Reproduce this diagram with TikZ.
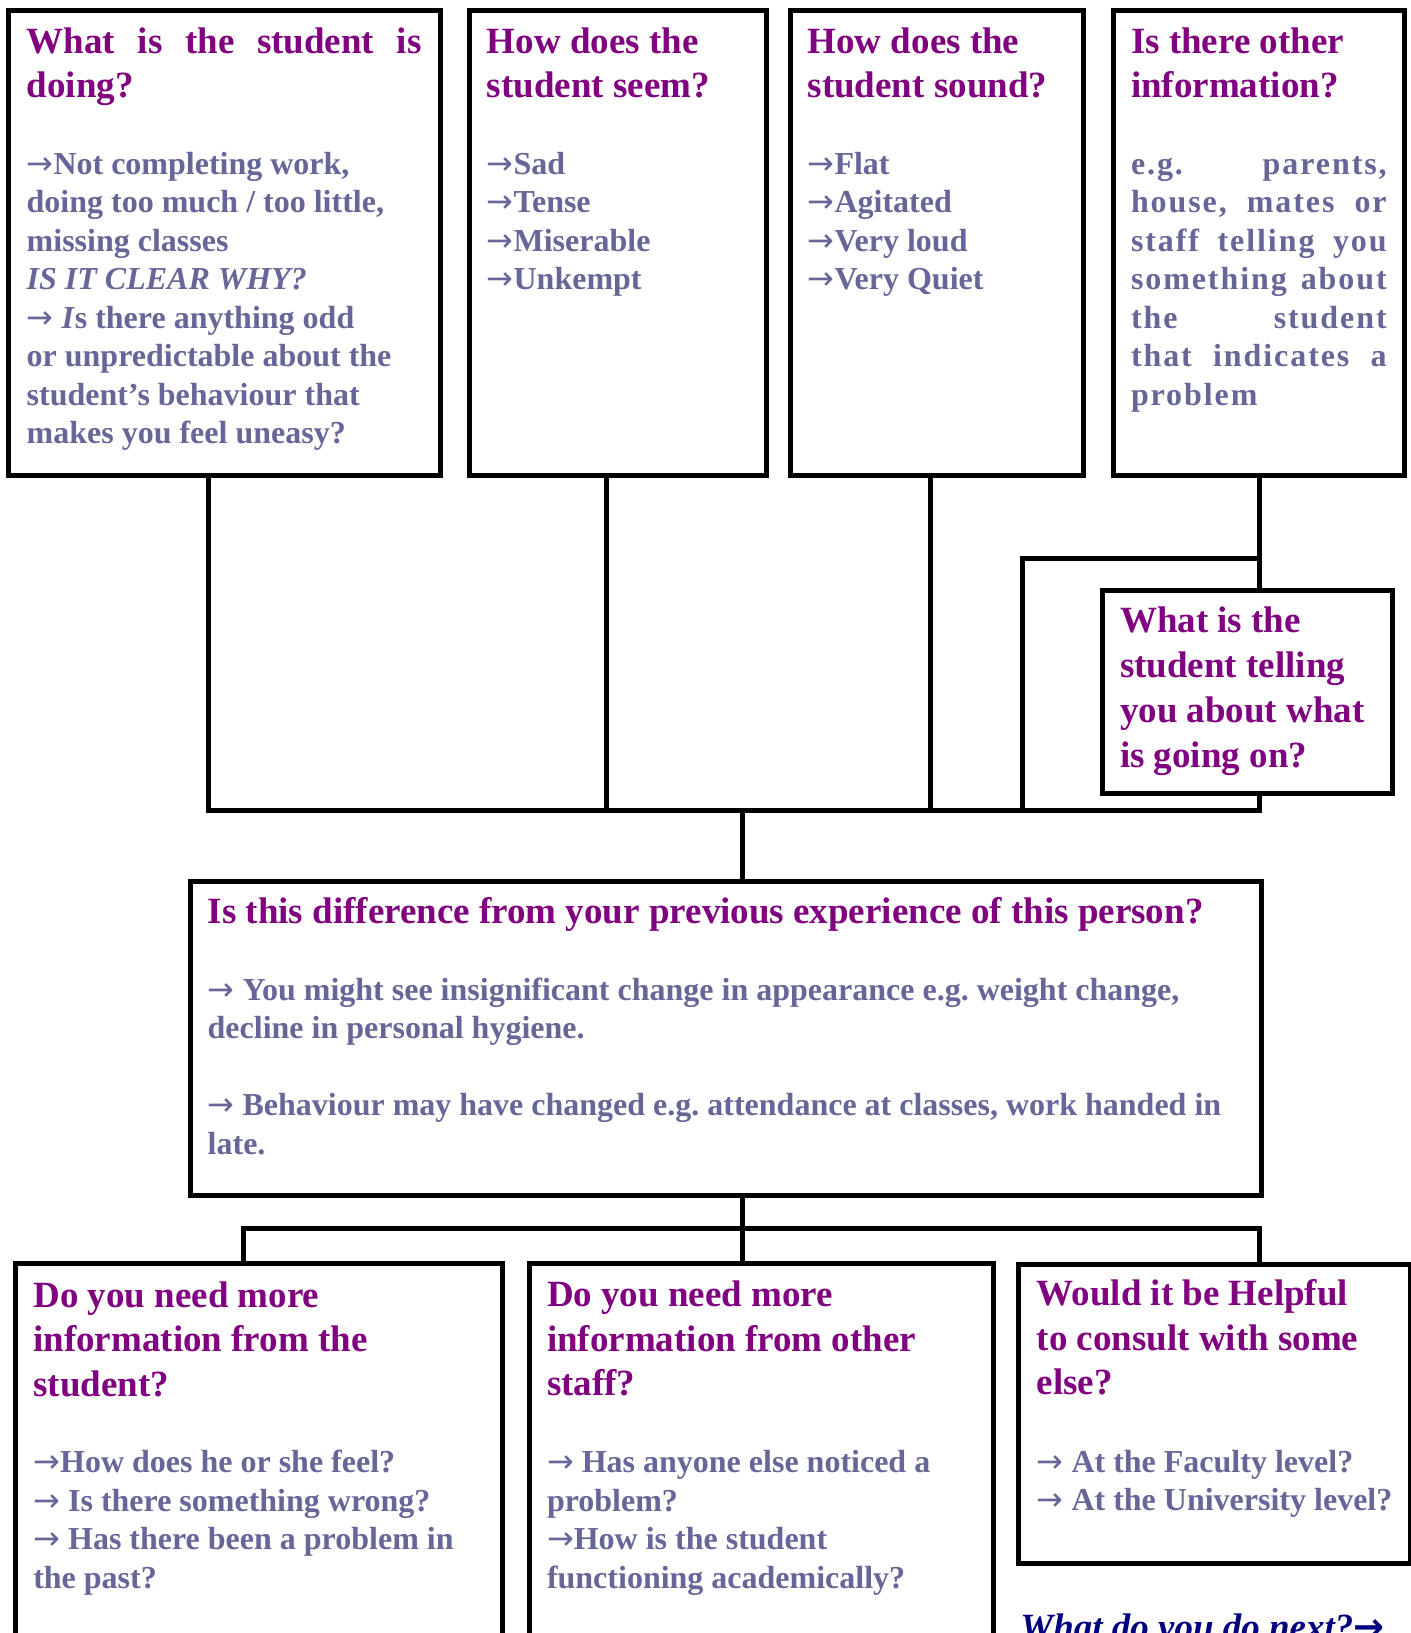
\documentclass[tikz,border=0pt]{standalone}
\usepackage{fontspec}
\setmainfont{Liberation Serif}
\newfontfamily\arrowfont{DejaVu Sans}
\usetikzlibrary{fit}
\definecolor{headpurple}{RGB}{128,0,128}
\definecolor{bodyslate}{RGB}{102,102,153}
\definecolor{nextnavy}{RGB}{0,0,128}
% ragged block whose baseline is the first line
\newcommand{\qlines}[1]{\parbox[t]{800pt}{\raggedright\frenchspacing #1}}
% bullet arrow
\newcommand{\ra}{{\arrowfont\mdseries →}}

\begin{document}
\begin{tikzpicture}[x=0.5pt,y=-0.5pt,
  qbox/.style={draw, line width=2.5pt, fill=white, inner sep=0pt, outer sep=0pt, rectangle},
  link/.style={draw, line width=2.5pt, line join=miter},
  head/.style={anchor=base west, inner sep=0pt, outer sep=0pt, text=headpurple,
     font=\fontsize{18.5pt}{22.25pt}\selectfont\bfseries},
  body/.style={anchor=base west, inner sep=0pt, outer sep=0pt, text=bodyslate,
     font=\fontsize{16pt}{19.25pt}\selectfont\bfseries},
]
\useasboundingbox (0,0) rectangle (1411,1633);
\clip (0,0) rectangle (1411,1633);
\fill[white] (0,0) rectangle (1411,1633);

% top row of question boxes
\node[qbox, fit={(8.5,10) (440,475)}] (doing) {};
\node[qbox, fit={(469.7,10) (766.3,475)}] (seem) {};
\node[qbox, fit={(790,10) (1083,475)}] (sound) {};
\node[qbox, fit={(1113,10) (1404,475)}] (other) {};

% central box and the bottom row
\node[qbox, fit={(190,881) (1261.5,1195.5)}] (diff) {};
\node[qbox, fit={(15,1263.5) (502.5,1700)}] (fromstudent) {};
\node[qbox, fit={(529,1263.5) (993,1700)}] (fromstaff) {};
\node[qbox, fit={(1018.5,1264) (1410.5,1563)}] (consult) {};

% junction points of the connectors
\coordinate (jDoing) at (208,810);
\coordinate (jSeem) at (606,810);
\coordinate (jSound) at (930,810);
\coordinate (jOther) at (1259,810);
\coordinate (jLoopTop) at (1022.5,558);
\coordinate (jLoopBot) at (1022.5,810);
\coordinate (jUp) at (742.5,810);
\coordinate (jDown) at (742.5,1228);
\coordinate (jStudent) at (243,1228);
\coordinate (jConsult) at (1259,1228);

\draw[link] (doing.south -| jDoing) -- (jDoing) -- (jOther) -- (other.south -| jOther);
\draw[link] (seem.south -| jSeem) -- (jSeem);
\draw[link] (sound.south -| jSound) -- (jSound);
\draw[link] (jLoopTop -| jOther) -- (jLoopTop) -- (jLoopBot);
\draw[link] (jUp) -- (diff.north -| jUp);
\draw[link] (diff.south -| jDown) -- (jDown);
\draw[link] (fromstudent.north -| jStudent) -- (jStudent) -- (jConsult) -- (consult.north -| jConsult);
\draw[link] (jDown) -- (fromstaff.north -| jDown);

% box sitting on the loop, in front of the lines
\node[qbox, fit={(1102,590) (1392.5,793)}] (telling) {};

% texts
\node[head] (doingH) at (26.7,53.3) {\qlines{\makebox[197.5pt][s]{What is the student is}\\ doing?}};
\node[body] (doingB) at (26.7,174) {\qlines{\ra Not completing work,\\ doing too much / too little,\\ missing classes\\ \textit{IS IT CLEAR WHY?}\\ \ra{} \textit{I}s there anything odd\\ or unpredictable about the\\ student’s behaviour that\\ makes you feel uneasy?}};

\node[head] (seemH) at (486.8,53.3) {\qlines{How does the\\ student seem?}};
\node[body] (seemB) at (486.8,174) {\qlines{\ra Sad\\ \ra Tense\\ \ra Miserable\\ \ra Unkempt}};

\node[head] (soundH) at (807.7,53.3) {\qlines{How does the\\ student sound?}};
\node[body] (soundB) at (807.7,174) {\qlines{\ra Flat\\ \ra Agitated\\ \ra Very loud\\ \ra Very Quiet}};

\node[head] (otherH) at (1131,53.3) {\qlines{Is there other\\ information?}};
\node[body] (otherB) at (1131,174) {\qlines{\addfontfeature{LetterSpace=6}%
\makebox[127.85pt][s]{e.g. parents,}\\
\makebox[127.85pt][s]{house, mates or}\\
\makebox[127.85pt][s]{staff telling you}\\
\makebox[127.85pt][s]{something about}\\
\makebox[127.85pt][s]{the student}\\
\makebox[127.85pt][s]{that indicates a}\\
problem}};

\node[head, font=\fontsize{18.5pt}{22.5pt}\selectfont\bfseries] (tellingH) at (1120,632) {\qlines{What is the\\ student telling\\ you about what\\ is going on?}};

\node[head] (diffH) at (207.7,923.3) {\qlines{Is this difference from your previous experience of this person?}};
\node[body] (diffB) at (207.7,1000) {\qlines{\ra{} You might see insignificant change in appearance e.g. weight change,\\ decline in personal hygiene.\\[19.25pt] \ra{} Behaviour may have changed e.g. attendance at classes, work handed in\\ late.}};

\node[head] (fromstudentH) at (33.3,1307.3) {\qlines{Do you need more\\ information from the\\ student?}};
\node[body] (fromstudentB) at (33.3,1472.7) {\qlines{\ra How does he or she feel?\\ \ra{} Is there something wrong?\\ \ra{} Has there been a problem in\\ the past?}};

\node[head] (fromstaffH) at (547,1306.7) {\qlines{Do you need more\\ information from other\\ staff?}};
\node[body] (fromstaffB) at (547,1472.7) {\qlines{\ra{} Has anyone else noticed a\\ problem?\\ \ra How is the student\\ functioning academically?}};

\node[head] (consultH) at (1036.7,1305.7) {\qlines{Would it be Helpful\\ to consult with some\\ else?}};
\node[body] (consultB) at (1036.7,1472.3) {\qlines{\ra{} At the Faculty level?\\ \ra{} At the University level?}};

\node[anchor=base west, inner sep=0pt, text=nextnavy,
      font=\fontsize{18.5pt}{22pt}\selectfont\bfseries\itshape] (next) at (1020,1639.5) {What do you do next?{\arrowfont\bfseries\upshape →}};
\end{tikzpicture}
\end{document}
